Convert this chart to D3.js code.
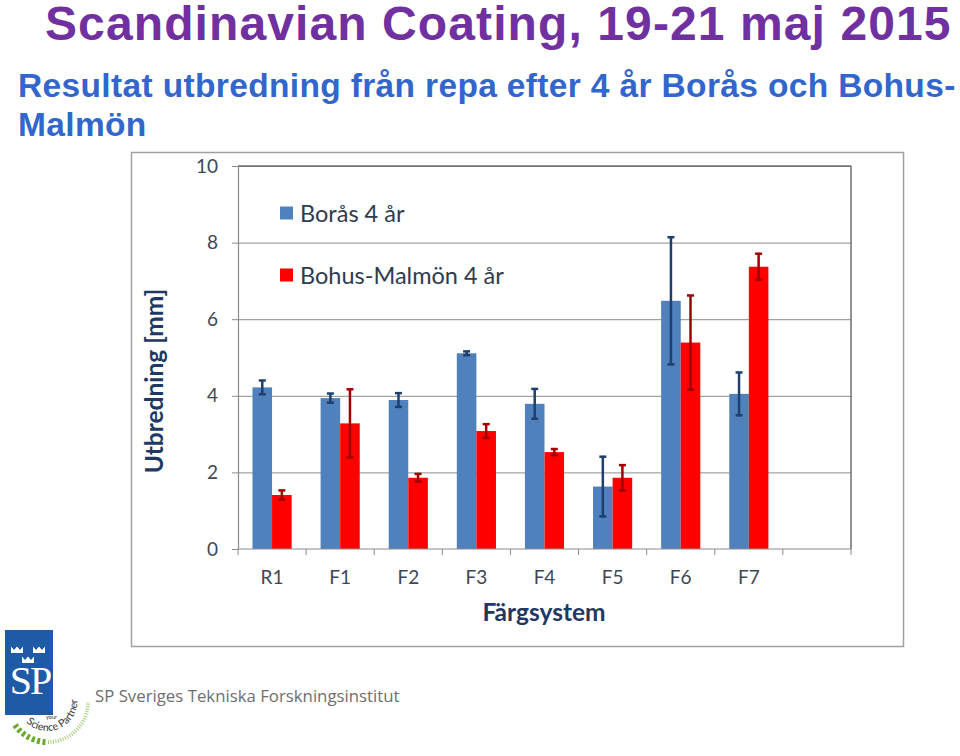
<!DOCTYPE html>
<html>
<head>
<meta charset="utf-8">
<script src="https://cdn.jsdelivr.net/npm/d3@7"></script>
<style>
  html, body { margin: 0; padding: 0; background: #fff; }
  svg { display: block; }
</style>
</head>
<body>
<svg id="chart" width="960" height="756"></svg>
<script>
// ---- Data ----
const categories = ["R1", "F1", "F2", "F3", "F4", "F5", "F6", "F7"];
const seriesNames = ["Borås 4 år", "Bohus-Malmön 4 år"];
const borasValues = [4.22, 3.94, 3.89, 5.11, 3.79, 1.63, 6.48, 4.05];
const borasErrors = [0.18, 0.12, 0.18, 0.05, 0.39, 0.78, 1.66, 0.56];
const bohusValues = [1.41, 3.28, 1.86, 3.08, 2.53, 1.86, 5.39, 7.37];
const bohusErrors = [0.12, 0.89, 0.10, 0.18, 0.08, 0.33, 1.23, 0.34];
const yTicks = [0, 2, 4, 6, 8, 10];

const titleText = "Scandinavian Coating, 19-21 maj 2015";
const subtitleLine1 = "Resultat utbredning från repa efter 4 år Borås och Bohus-";
const subtitleLine2 = "Malmön";
const yTitle = "Utbredning [mm]";
const xTitle = "Färgsystem";
const footerText = "SP Sveriges Tekniska Forskningsinstitut";

const series = [
  { name: seriesNames[0], values: borasValues, errors: borasErrors, fill: "#4F81BD", err: "#1F3F6E" },
  { name: seriesNames[1], values: bohusValues, errors: bohusErrors, fill: "#FF0000", err: "#A00000" }
];

const svg = d3.select("#chart");
const FONT = "Lato, 'Open Sans', sans-serif";

// ---- Titles ----
svg.append("text")
  .attr("x", 45).attr("y", 40)
  .attr("font-family", "'Liberation Sans', Arial, sans-serif")
  .attr("font-weight", "bold").attr("font-size", 48)
  .attr("letter-spacing", 1.1)
  .attr("fill", "#7030A0")
  .text(titleText);

const sub = svg.append("text")
  .attr("font-family", "'Liberation Sans', Arial, sans-serif")
  .attr("font-weight", "bold").attr("font-size", 33.5)
  .attr("fill", "#3366CC");
sub.append("tspan").attr("x", 18).attr("y", 97).attr("letter-spacing", 0.35).text(subtitleLine1);
sub.append("tspan").attr("x", 18).attr("y", 136).attr("letter-spacing", 0.35).text(subtitleLine2);

// ---- Chart frame ----
svg.append("rect")
  .attr("x", 131.5).attr("y", 152.5).attr("width", 772).attr("height", 494)
  .attr("fill", "#fff").attr("stroke", "#A0A0A0").attr("stroke-width", 1.5);

// ---- Scales ----
const plot = { left: 238, right: 851, top: 166, bottom: 549 };
const slots = categories.concat([""]);
const x = d3.scaleBand().domain(slots).range([plot.left, plot.right]).padding(0);
const x1 = d3.scaleBand().domain(d3.range(series.length))
  .range([0, x.bandwidth()]).paddingInner(0).paddingOuter(0.74);
const y = d3.scaleLinear().domain([0, 10]).range([plot.bottom, plot.top]);

const g = svg.append("g");

// gridlines
g.append("g")
  .attr("transform", `translate(${plot.left},0)`)
  .call(d3.axisLeft(y).tickValues(yTicks.filter(t => t > 0)).tickSize(-(plot.right - plot.left)).tickFormat(""))
  .call(s => s.select(".domain").remove())
  .call(s => s.selectAll("line").attr("stroke", "#8C8C8C").attr("stroke-width", 1));

// plot border top/right
g.append("line").attr("x1", plot.left).attr("x2", plot.right).attr("y1", y(10)).attr("y2", y(10))
  .attr("stroke", "#6E6E6E").attr("stroke-width", 1.5);
g.append("line").attr("x1", plot.right).attr("x2", plot.right).attr("y1", y(10)).attr("y2", y(0))
  .attr("stroke", "#6E6E6E").attr("stroke-width", 1.5);

// bars
series.forEach((s, si) => {
  g.append("g").selectAll("rect").data(categories).join("rect")
    .attr("x", d => x(d) + x1(si))
    .attr("y", (d, i) => y(s.values[i]))
    .attr("width", x1.bandwidth())
    .attr("height", (d, i) => y(0) - y(s.values[i]))
    .attr("fill", s.fill);
});

// error bars
series.forEach((s, si) => {
  const eg = g.append("g").attr("stroke", s.err).attr("stroke-width", 2.5).attr("fill", "none");
  categories.forEach((c, i) => {
    const cx = x(c) + x1(si) + x1.bandwidth() / 2;
    const lo = y(s.values[i] - s.errors[i]);
    const hi = y(s.values[i] + s.errors[i]);
    eg.append("line").attr("x1", cx).attr("x2", cx).attr("y1", lo).attr("y2", hi);
    eg.append("line").attr("x1", cx - 3.5).attr("x2", cx + 3.5).attr("y1", lo).attr("y2", lo);
    eg.append("line").attr("x1", cx - 3.5).attr("x2", cx + 3.5).attr("y1", hi).attr("y2", hi);
  });
});

// y axis
g.append("g")
  .attr("transform", `translate(${plot.left},0)`)
  .call(d3.axisLeft(y).tickValues(yTicks).tickSize(6).tickPadding(14).tickFormat(d3.format("d")))
  .call(s => s.select(".domain").attr("stroke", "#8C8C8C").attr("stroke-width", 1.2))
  .call(s => s.selectAll(".tick line").attr("stroke", "#8C8C8C"))
  .call(s => s.selectAll("text").attr("font-family", FONT).attr("font-size", 19).attr("fill", "#3E4756"));

// x axis
const xa = g.append("g").attr("transform", `translate(0,${plot.bottom})`);
xa.call(d3.axisBottom(x).tickSize(0).tickPadding(22).tickFormat(d => d))
  .call(s => s.select(".domain").remove())
  .call(s => s.selectAll("text").attr("font-family", FONT).attr("font-size", 19).attr("fill", "#3E4756"));
xa.append("line").attr("x1", plot.left).attr("x2", plot.right).attr("y1", 0).attr("y2", 0)
  .attr("stroke", "#8C8C8C").attr("stroke-width", 1.2);
xa.selectAll(".btick").data(slots.map(d => x(d)).concat([plot.right])).join("line")
  .attr("class", "btick")
  .attr("x1", d => d).attr("x2", d => d).attr("y1", 0).attr("y2", 6)
  .attr("stroke", "#8C8C8C");

// axis titles
svg.append("text")
  .attr("x", 544).attr("y", 621)
  .attr("text-anchor", "middle")
  .attr("font-family", FONT).attr("font-weight", "bold").attr("font-size", 24.5)
  .attr("fill", "#1F3864").text(xTitle);
svg.append("text")
  .attr("transform", "translate(163,381) rotate(-90)")
  .attr("text-anchor", "middle")
  .attr("font-family", FONT).attr("font-weight", "bold").attr("font-size", 24.5)
  .attr("fill", "#1F3864").text(yTitle);

// legend
const legend = svg.append("g");
series.forEach((s, si) => {
  const ly = 213 + si * 62;
  legend.append("rect").attr("x", 280).attr("y", ly - 6.5).attr("width", 13).attr("height", 13).attr("fill", s.fill);
  legend.append("text").attr("x", 300).attr("y", ly + 8.5)
    .attr("font-family", FONT).attr("font-size", 23.5).attr("fill", "#2F3B4E").text(s.name);
});

// ---- Footer logo ----
const logo = svg.append("g");
logo.append("rect").attr("x", 5).attr("y", 630).attr("width", 48).attr("height", 85).attr("fill", "#1F5AA6");
const crown = (cx, cy, w) => {
  const h = w * 0.55;
  return `M${cx - w/2},${cy} L${cx - w/2},${cy - h} L${cx - w/4},${cy - h*0.45} L${cx},${cy - h} L${cx + w/4},${cy - h*0.45} L${cx + w/2},${cy - h} L${cx + w/2},${cy} Z`;
};
[[17, 653], [39, 653], [28, 663]].forEach(([cx, cy]) => {
  logo.append("path").attr("d", crown(cx, cy, 12)).attr("fill", "#fff");
});
logo.append("text").attr("x", 30).attr("y", 694).attr("text-anchor", "middle")
  .attr("font-family", "'Liberation Serif', serif").attr("font-size", 40).attr("fill", "#fff")
  .attr("letter-spacing", -2).text("SP");
// arc text "your Science Partner"
logo.append("path").attr("id", "arcp")
  .attr("d", "M 25 721 A 30 30 0 0 0 76 692").attr("fill", "none");
logo.append("text").attr("font-family", FONT).attr("font-size", 10.5).attr("fill", "#333")
  .append("textPath").attr("href", "#arcp").attr("startOffset", "2%").text("Science Partner");
logo.append("text").attr("x", 46).attr("y", 719).attr("font-family", FONT).attr("font-size", 5.5).attr("fill", "#333").text("your");
logo.append("path").attr("d", "M 15 725 A 40 40 0 0 0 46 742").attr("fill", "none")
  .attr("stroke", "#6DAA2C").attr("stroke-width", 6).attr("stroke-dasharray", "3 2.5");
logo.append("path").attr("d", "M 48 742 A 40 40 0 0 0 88 702").attr("fill", "none")
  .attr("stroke", "#A8CF7A").attr("stroke-width", 4).attr("stroke-dasharray", "1 1.5");

svg.append("text").attr("x", 95).attr("y", 702)
  .attr("font-family", "'Open Sans', sans-serif").attr("font-size", 16.8).attr("fill", "#6E6E6E")
  .text(footerText);
</script>
</body>
</html>
